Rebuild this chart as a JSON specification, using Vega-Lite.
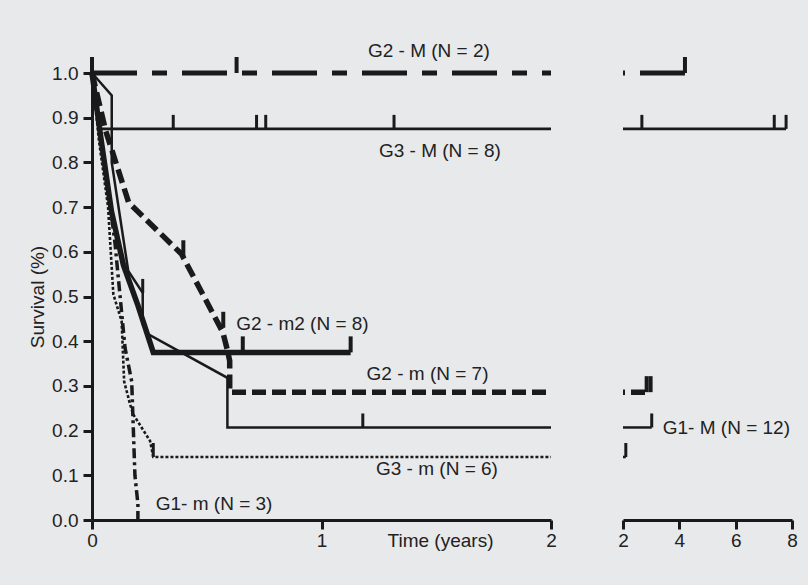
{
  "$schema": "https://vega.github.io/schema/vega-lite/v6.json",
  "padding": {"left": 28, "top": 42, "right": 11, "bottom": 36},
  "background": "#e8e9eb",
  "spacing": 72,
  "bounds": "flush",
  "datasets": {
    "curves": [
      {"g": "G3-M", "p": "L", "i": 0, "t": 0, "v": 1},
      {"g": "G3-M", "p": "L", "i": 1, "t": 0.03, "v": 0.875},
      {"g": "G3-M", "p": "L", "i": 2, "t": 2, "v": 0.875},
      {"g": "G3-M", "p": "R", "i": 0, "t": 2, "v": 0.875},
      {"g": "G3-M", "p": "R", "i": 1, "t": 7.79, "v": 0.875},
      {"g": "G2-M", "p": "L", "i": 0, "t": 0, "v": 1},
      {"g": "G2-M", "p": "L", "i": 1, "t": 2, "v": 1},
      {"g": "G2-M", "p": "R", "i": 0, "t": 2, "v": 1},
      {"g": "G2-M", "p": "R", "i": 1, "t": 4.2, "v": 1},
      {"g": "G2-m2", "p": "L", "i": 0, "t": 0, "v": 1},
      {"g": "G2-m2", "p": "L", "i": 1, "t": 0.04, "v": 0.85},
      {"g": "G2-m2", "p": "L", "i": 2, "t": 0.085, "v": 0.69},
      {"g": "G2-m2", "p": "L", "i": 3, "t": 0.137, "v": 0.57},
      {"g": "G2-m2", "p": "L", "i": 4, "t": 0.2, "v": 0.48},
      {"g": "G2-m2", "p": "L", "i": 5, "t": 0.267, "v": 0.375},
      {"g": "G2-m2", "p": "L", "i": 6, "t": 1.127, "v": 0.375},
      {"g": "G2-m", "p": "L", "i": 0, "t": 0, "v": 1},
      {"g": "G2-m", "p": "L", "i": 1, "t": 0.06, "v": 0.87},
      {"g": "G2-m", "p": "L", "i": 2, "t": 0.16, "v": 0.71},
      {"g": "G2-m", "p": "L", "i": 3, "t": 0.39, "v": 0.595},
      {"g": "G2-m", "p": "L", "i": 4, "t": 0.57, "v": 0.42},
      {"g": "G2-m", "p": "L", "i": 5, "t": 0.59, "v": 0.38},
      {"g": "G2-m", "p": "L", "i": 6, "t": 0.6, "v": 0.356},
      {"g": "G2-m", "p": "L", "i": 7, "t": 0.6, "v": 0.286},
      {"g": "G2-m", "p": "L", "i": 8, "t": 2, "v": 0.286},
      {"g": "G2-m", "p": "R", "i": 0, "t": 2, "v": 0.286},
      {"g": "G2-m", "p": "R", "i": 1, "t": 2.98, "v": 0.286},
      {"g": "G1-M", "p": "L", "i": 0, "t": 0, "v": 1},
      {"g": "G1-M", "p": "L", "i": 1, "t": 0.086, "v": 0.95},
      {"g": "G1-M", "p": "L", "i": 2, "t": 0.086, "v": 0.8},
      {"g": "G1-M", "p": "L", "i": 3, "t": 0.158, "v": 0.557},
      {"g": "G1-M", "p": "L", "i": 4, "t": 0.221, "v": 0.508},
      {"g": "G1-M", "p": "L", "i": 5, "t": 0.221, "v": 0.438},
      {"g": "G1-M", "p": "L", "i": 6, "t": 0.244, "v": 0.416},
      {"g": "G1-M", "p": "L", "i": 7, "t": 0.59, "v": 0.318},
      {"g": "G1-M", "p": "L", "i": 8, "t": 0.59, "v": 0.207},
      {"g": "G1-M", "p": "L", "i": 9, "t": 2, "v": 0.207},
      {"g": "G1-M", "p": "R", "i": 0, "t": 2, "v": 0.207},
      {"g": "G1-M", "p": "R", "i": 1, "t": 3.02, "v": 0.207},
      {"g": "G3-m", "p": "L", "i": 0, "t": 0, "v": 1},
      {"g": "G3-m", "p": "L", "i": 1, "t": 0.03, "v": 0.85},
      {"g": "G3-m", "p": "L", "i": 2, "t": 0.07, "v": 0.7},
      {"g": "G3-m", "p": "L", "i": 3, "t": 0.093, "v": 0.505},
      {"g": "G3-m", "p": "L", "i": 4, "t": 0.129, "v": 0.445},
      {"g": "G3-m", "p": "L", "i": 5, "t": 0.14, "v": 0.31},
      {"g": "G3-m", "p": "L", "i": 6, "t": 0.166, "v": 0.259},
      {"g": "G3-m", "p": "L", "i": 7, "t": 0.18, "v": 0.236},
      {"g": "G3-m", "p": "L", "i": 8, "t": 0.253, "v": 0.177},
      {"g": "G3-m", "p": "L", "i": 9, "t": 0.267, "v": 0.141},
      {"g": "G3-m", "p": "L", "i": 10, "t": 2, "v": 0.141},
      {"g": "G3-m", "p": "R", "i": 0, "t": 2, "v": 0.141},
      {"g": "G3-m", "p": "R", "i": 1, "t": 2.1, "v": 0.141},
      {"g": "G1-m", "p": "L", "i": 0, "t": 0, "v": 1},
      {"g": "G1-m", "p": "L", "i": 1, "t": 0.05, "v": 0.82},
      {"g": "G1-m", "p": "L", "i": 2, "t": 0.1, "v": 0.62},
      {"g": "G1-m", "p": "L", "i": 3, "t": 0.144, "v": 0.385},
      {"g": "G1-m", "p": "L", "i": 4, "t": 0.173, "v": 0.31},
      {"g": "G1-m", "p": "L", "i": 5, "t": 0.187, "v": 0.1},
      {"g": "G1-m", "p": "L", "i": 6, "t": 0.2, "v": 0.036},
      {"g": "G1-m", "p": "L", "i": 7, "t": 0.2, "v": 0}
    ],
    "ticks": [
      {"g": "G2-M", "p": "L", "w": "thick", "t": 0, "v": 1},
      {"g": "G2-M", "p": "L", "w": "thick", "t": 0.63, "v": 1},
      {"g": "G2-M", "p": "R", "w": "thick", "t": 4.2, "v": 1},
      {"g": "G3-M", "p": "L", "w": "thin", "t": 0.354, "v": 0.875},
      {"g": "G3-M", "p": "L", "w": "thin", "t": 0.717, "v": 0.875},
      {"g": "G3-M", "p": "L", "w": "thin", "t": 0.757, "v": 0.875},
      {"g": "G3-M", "p": "L", "w": "thin", "t": 1.316, "v": 0.875},
      {"g": "G3-M", "p": "R", "w": "thin", "t": 2.67, "v": 0.875},
      {"g": "G3-M", "p": "R", "w": "thin", "t": 7.37, "v": 0.875},
      {"g": "G3-M", "p": "R", "w": "thin", "t": 7.79, "v": 0.875},
      {"g": "G2-m2", "p": "L", "w": "thick", "t": 0.657, "v": 0.375},
      {"g": "G2-m2", "p": "L", "w": "thick", "t": 1.127, "v": 0.375},
      {"g": "G2-m", "p": "L", "w": "thick", "t": 0.398, "v": 0.59},
      {"g": "G2-m", "p": "L", "w": "thick", "t": 0.572, "v": 0.43},
      {"g": "G2-m", "p": "R", "w": "thick", "t": 2.84, "v": 0.286},
      {"g": "G2-m", "p": "R", "w": "thick", "t": 2.98, "v": 0.286},
      {"g": "G1-M", "p": "L", "w": "thin", "t": 0.221, "v": 0.508},
      {"g": "G1-M", "p": "L", "w": "thin", "t": 1.18, "v": 0.207},
      {"g": "G1-M", "p": "R", "w": "thin", "t": 3.02, "v": 0.207},
      {"g": "G3-m", "p": "L", "w": "thin", "t": 0.267, "v": 0.141},
      {"g": "G3-m", "p": "R", "w": "thin", "t": 2.1, "v": 0.141}
    ],
    "labels": [
      {"p": "L", "label": "G2 - M (N = 2)", "t": 1.468, "v": 1.049},
      {"p": "L", "label": "G3 - M (N = 8)", "t": 1.516, "v": 0.826},
      {"p": "L", "label": "G2 - m2 (N = 8)", "t": 0.917, "v": 0.438},
      {"p": "L", "label": "G2 - m (N = 7)", "t": 1.462, "v": 0.327},
      {"p": "L", "label": "G3 - m (N = 6)", "t": 1.503, "v": 0.114},
      {"p": "L", "label": "G1- m (N = 3)", "t": 0.532, "v": 0.036},
      {"p": "R", "label": "G1- M (N = 12)", "t": 5.67, "v": 0.206}
    ]
  },
  "hconcat": [
    {
      "width": 459,
      "height": 447,
      "encoding": {
        "x": {"field": "t", "type": "quantitative", "scale": {"domain": [0, 2], "nice": false, "zero": false},
          "axis": {"values": [0, 1, 2], "format": ".0f", "title": "Time (years)", "titleX": 348, "titleY": 11, "titleBaseline": "top", "labelPadding": 2, "labelFlush": false, "labelOverlap": false}},
        "y": {"field": "v", "type": "quantitative", "scale": {"domain": [0, 1], "nice": false},
          "axis": {"values": [0, 0.1, 0.2, 0.3, 0.4, 0.5, 0.6, 0.7, 0.8, 0.9, 1.0], "format": ".1f", "title": "Survival (%)", "labelPadding": 5, "titlePadding": 4, "labelOverlap": false}}
      },
      "layer": [
        {"data": {"name": "curves"}, "transform": [{"filter": "datum.p === 'L' && datum.g === 'G3-M'"}],
         "mark": {"type": "line", "color": "#1a1a1a", "strokeWidth": 2.7}, "encoding": {"order": {"field": "i", "type": "quantitative"}}},
        {"data": {"name": "curves"}, "transform": [{"filter": "datum.p === 'L' && datum.g === 'G1-M'"}],
         "mark": {"type": "line", "color": "#1a1a1a", "strokeWidth": 2.5}, "encoding": {"order": {"field": "i", "type": "quantitative"}}},
        {"data": {"name": "curves"}, "transform": [{"filter": "datum.p === 'L' && datum.g === 'G3-m'"}],
         "mark": {"type": "line", "color": "#1a1a1a", "strokeWidth": 2.6, "strokeDash": [3, 2]}, "encoding": {"order": {"field": "i", "type": "quantitative"}}},
        {"data": {"name": "curves"}, "transform": [{"filter": "datum.p === 'L' && datum.g === 'G1-m'"}],
         "mark": {"type": "line", "color": "#1a1a1a", "strokeWidth": 3.5, "strokeDash": [10, 4, 3, 4]}, "encoding": {"order": {"field": "i", "type": "quantitative"}}},
        {"data": {"name": "curves"}, "transform": [{"filter": "datum.p === 'L' && datum.g === 'G2-m2'"}],
         "mark": {"type": "line", "color": "#1a1a1a", "strokeWidth": 5.5}, "encoding": {"order": {"field": "i", "type": "quantitative"}}},
        {"data": {"name": "curves"}, "transform": [{"filter": "datum.p === 'L' && datum.g === 'G2-m'"}],
         "mark": {"type": "line", "color": "#1a1a1a", "strokeWidth": 5.5, "strokeDash": [14, 6]}, "encoding": {"order": {"field": "i", "type": "quantitative"}}},
        {"data": {"name": "curves"}, "transform": [{"filter": "datum.p === 'L' && datum.g === 'G2-M'"}],
         "mark": {"type": "line", "color": "#1a1a1a", "strokeWidth": 5, "strokeDash": [45, 15, 15, 15]}, "encoding": {"order": {"field": "i", "type": "quantitative"}}},
        {"data": {"name": "ticks"}, "transform": [{"filter": "datum.p === 'L' && datum.w === 'thin'"}],
         "mark": {"type": "tick", "orient": "vertical", "color": "#1a1a1a", "opacity": 1, "size": 14, "thickness": 3, "yOffset": -7}},
        {"data": {"name": "ticks"}, "transform": [{"filter": "datum.p === 'L' && datum.w === 'thick'"}],
         "mark": {"type": "tick", "orient": "vertical", "color": "#1a1a1a", "opacity": 1, "size": 16, "thickness": 4, "yOffset": -8}},
        {"data": {"name": "labels"}, "transform": [{"filter": "datum.p === 'L'"}],
         "mark": {"type": "text", "align": "center", "baseline": "middle", "fontSize": 19, "font": "Liberation Sans", "color": "#222"},
         "encoding": {"text": {"field": "label", "type": "nominal"}}}
      ]
    },
    {
      "width": 169,
      "height": 447,
      "encoding": {
        "x": {"field": "t", "type": "quantitative", "scale": {"domain": [2, 8], "nice": false, "zero": false},
          "axis": {"values": [2, 4, 6, 8], "format": ".0f", "title": null, "labelPadding": 2, "labelFlush": false, "labelOverlap": false}},
        "y": {"field": "v", "type": "quantitative", "scale": {"domain": [0, 1], "nice": false}, "axis": null}
      },
      "layer": [
        {"data": {"name": "curves"}, "transform": [{"filter": "datum.p === 'R' && datum.g === 'G3-M'"}],
         "mark": {"type": "line", "color": "#1a1a1a", "strokeWidth": 2.7}, "encoding": {"order": {"field": "i", "type": "quantitative"}}},
        {"data": {"name": "curves"}, "transform": [{"filter": "datum.p === 'R' && datum.g === 'G1-M'"}],
         "mark": {"type": "line", "color": "#1a1a1a", "strokeWidth": 2.5}, "encoding": {"order": {"field": "i", "type": "quantitative"}}},
        {"data": {"name": "curves"}, "transform": [{"filter": "datum.p === 'R' && datum.g === 'G3-m'"}],
         "mark": {"type": "line", "color": "#1a1a1a", "strokeWidth": 2.6, "strokeDash": [3, 2]}, "encoding": {"order": {"field": "i", "type": "quantitative"}}},
        {"data": {"name": "curves"}, "transform": [{"filter": "datum.p === 'R' && datum.g === 'G2-m'"}],
         "mark": {"type": "line", "color": "#1a1a1a", "strokeWidth": 5.5, "strokeDash": [2, 6, 14, 6]}, "encoding": {"order": {"field": "i", "type": "quantitative"}}},
        {"data": {"name": "curves"}, "transform": [{"filter": "datum.p === 'R' && datum.g === 'G2-M'"}],
         "mark": {"type": "line", "color": "#1a1a1a", "strokeWidth": 5, "strokeDash": [45, 15, 15, 15], "strokeDashOffset": 73}, "encoding": {"order": {"field": "i", "type": "quantitative"}}},
        {"data": {"name": "ticks"}, "transform": [{"filter": "datum.p === 'R' && datum.w === 'thin'"}],
         "mark": {"type": "tick", "orient": "vertical", "color": "#1a1a1a", "opacity": 1, "size": 14, "thickness": 3, "yOffset": -7}},
        {"data": {"name": "ticks"}, "transform": [{"filter": "datum.p === 'R' && datum.w === 'thick'"}],
         "mark": {"type": "tick", "orient": "vertical", "color": "#1a1a1a", "opacity": 1, "size": 16, "thickness": 4, "yOffset": -8}},
        {"data": {"name": "labels"}, "transform": [{"filter": "datum.p === 'R'"}],
         "mark": {"type": "text", "align": "center", "baseline": "middle", "fontSize": 19, "font": "Liberation Sans", "color": "#222"},
         "encoding": {"text": {"field": "label", "type": "nominal"}}}
      ]
    }
  ],
  "config": {
    "view": {"stroke": null},
    "font": "Liberation Sans",
    "axis": {
      "grid": false,
      "domainColor": "#1a1a1a",
      "domainWidth": 3,
      "tickColor": "#1a1a1a",
      "tickWidth": 3,
      "tickSize": 9,
      "labelFont": "Liberation Sans",
      "labelFontSize": 19,
      "labelColor": "#222",
      "titleFont": "Liberation Sans",
      "titleFontSize": 19,
      "titleFontWeight": "normal",
      "titleColor": "#222"
    }
  }
}
